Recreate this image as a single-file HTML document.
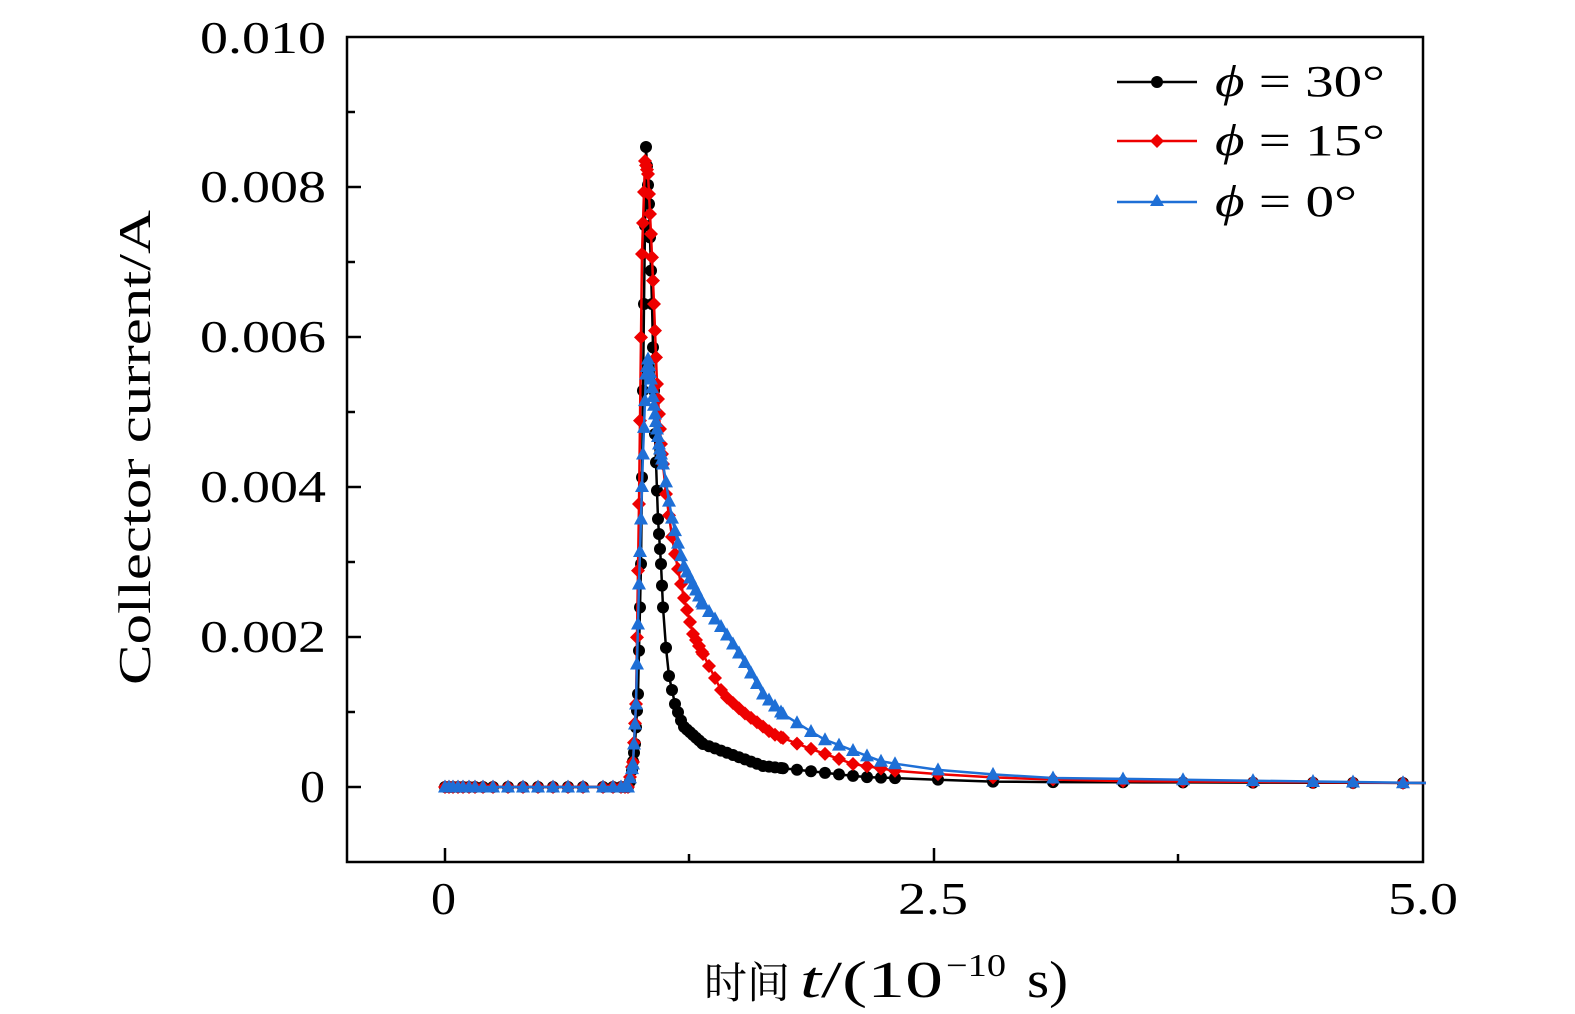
<!DOCTYPE html>
<html><head><meta charset="utf-8"><style>
html,body{margin:0;padding:0;background:#fff;}
svg{display:block;}
text{font-family:"Liberation Serif","Noto Serif CJK SC",serif;fill:#000;}
</style></head><body>
<svg id="s" width="1575" height="1014" viewBox="0 0 1575 1014" xmlns="http://www.w3.org/2000/svg">
<rect x="347" y="37" width="1076" height="825" fill="none" stroke="#000" stroke-width="2.5"/>
<g stroke="#000" stroke-width="2.5">
<line x1="347" y1="787" x2="361" y2="787"/><line x1="347" y1="637" x2="361" y2="637"/><line x1="347" y1="487" x2="361" y2="487"/><line x1="347" y1="337" x2="361" y2="337"/><line x1="347" y1="187" x2="361" y2="187"/>
<line x1="347" y1="712" x2="355" y2="712"/><line x1="347" y1="562" x2="355" y2="562"/><line x1="347" y1="412" x2="355" y2="412"/><line x1="347" y1="262" x2="355" y2="262"/><line x1="347" y1="112" x2="355" y2="112"/>
<line x1="445" y1="862" x2="445" y2="848"/><line x1="934" y1="862" x2="934" y2="848"/>
<line x1="689" y1="862" x2="689" y2="854"/><line x1="1178" y1="862" x2="1178" y2="854"/>
</g>
<g font-size="45">
<text x="200" y="53" textLength="126" lengthAdjust="spacingAndGlyphs">0.010</text>
<text x="200" y="202" textLength="126" lengthAdjust="spacingAndGlyphs">0.008</text>
<text x="200" y="352" textLength="126" lengthAdjust="spacingAndGlyphs">0.006</text>
<text x="200" y="502" textLength="126" lengthAdjust="spacingAndGlyphs">0.004</text>
<text x="200" y="652" textLength="126" lengthAdjust="spacingAndGlyphs">0.002</text>
<text x="300" y="802" textLength="25" lengthAdjust="spacingAndGlyphs">0</text>
<text x="431" y="914" textLength="25" lengthAdjust="spacingAndGlyphs">0</text>
<text x="898" y="914" textLength="70" lengthAdjust="spacingAndGlyphs">2.5</text>
<text x="1388" y="914" textLength="70" lengthAdjust="spacingAndGlyphs">5.0</text>
</g>
<text x="0" y="0" font-size="46" textLength="475" lengthAdjust="spacingAndGlyphs" transform="translate(150,685) rotate(-90)">Collector current/A</text>
<text x="704" y="998" font-size="43" textLength="86" lengthAdjust="spacingAndGlyphs">时间</text>
<text x="800" y="997" font-size="52" textLength="143" lengthAdjust="spacingAndGlyphs"><tspan font-style="italic">t</tspan>/(10</text>
<text x="946" y="976" font-size="32" textLength="60" lengthAdjust="spacingAndGlyphs">−10</text>
<text x="1027" y="997" font-size="52" textLength="41" lengthAdjust="spacingAndGlyphs">s)</text>
<g id="plot"></g>
<g font-size="44">
<line x1="1117" y1="82" x2="1197" y2="82" stroke="#000" stroke-width="2.5"/><circle cx="1157" cy="82" r="6" fill="#000"/>
<text x="1215" y="96" textLength="170" lengthAdjust="spacingAndGlyphs"><tspan font-style="italic">ϕ</tspan> = 30°</text>
<line x1="1117" y1="141" x2="1197" y2="141" stroke="#e00" stroke-width="2.5"/><polygon points="1157,134 1164,141 1157,148 1150,141" fill="#e00"/>
<text x="1215" y="155" textLength="170" lengthAdjust="spacingAndGlyphs"><tspan font-style="italic">ϕ</tspan> = 15°</text>
<line x1="1117" y1="202" x2="1197" y2="202" stroke="#1e6fd6" stroke-width="2.5"/><polygon points="1157,194 1164,206 1150,206" fill="#1e6fd6"/>
<text x="1215" y="216" textLength="142" lengthAdjust="spacingAndGlyphs"><tspan font-style="italic">ϕ</tspan> = 0°</text>
</g>
</svg>
<script>
var K={
b:[[442,783],[625,783],[628,775],[632,740],[635,690],[638,560],[641,300],[643,143],[646,200],[649,300],[652,430],[655,515],[658,560],[661,625],[666,672],[672,700],[680,722],[700,740],[760,762],[860,773],[1000,778],[1423,779]],
r:[[442,783],[625,783],[630,758],[633,700],[636,500],[639,250],[642,157],[645,170],[648,230],[651,300],[654,380],[658,440],[663,490],[670,540],[680,590],[690,630],[705,660],[720,690],[740,708],[770,730],[800,742],[850,760],[900,768],[1000,774],[1100,777],[1423,779]],
u:[[442,783],[625,783],[630,760],[633,700],[636,580],[640,450],[643,370],[645,355],[648,375],[652,410],[656,440],[661,465],[668,510],[680,560],[700,600],[720,625],[740,655],[760,690],[780,710],[820,735],[880,758],[950,768],[1050,774],[1423,779]]};
function f(k,x){for(var i=0;i<k.length-1;i++){if(x<=k[i+1][0]){var a=k[i],b=k[i+1];return a[1]+(b[1]-a[1])*(x-a[0])/(b[0]-a[0]);}}return k[k.length-1][1];}
var xs=[442,446,450,455,460,466,472,480,490,505,520,535,550,565,580,600,610,618,622,625,627];
for(var x=629;x<660;x+=1)xs.push(x);for(x=660;x<700;x+=3)xs.push(x);for(x=700;x<780;x+=6)xs.push(x);for(x=780;x<900;x+=14)xs.push(x);
xs=xs.concat([935,990,1050,1120,1180,1250,1310,1350,1400]);
var cols={b:"#000",r:"#e00",u:"#1e6fd6"},h="";
["b","r","u"].forEach(function(s){var pts=[];var xx=xs.slice();xx.push(1423);
xx.forEach(function(x){pts.push((x+3).toFixed(1)+","+(f(K[s],x)+4).toFixed(1));});
h+='<polyline fill="none" stroke="'+cols[s]+'" stroke-width="2.5" points="'+pts.join(" ")+'"/>';
xs.forEach(function(x){var X=x+3,Y=f(K[s],x)+4;
if(s=="b")h+='<circle cx="'+X+'" cy="'+Y+'" r="6" fill="#000"/>';
else if(s=="r")h+='<polygon fill="#e00" points="'+X+','+(Y-7)+' '+(X+7)+','+Y+' '+X+','+(Y+7)+' '+(X-7)+','+Y+'"/>';
else h+='<polygon fill="#1e6fd6" points="'+X+','+(Y-7.5)+' '+(X+7)+','+(Y+5.5)+' '+(X-7)+','+(Y+5.5)+'"/>';});});
document.getElementById("plot").innerHTML=h;
</script>
</body></html>
